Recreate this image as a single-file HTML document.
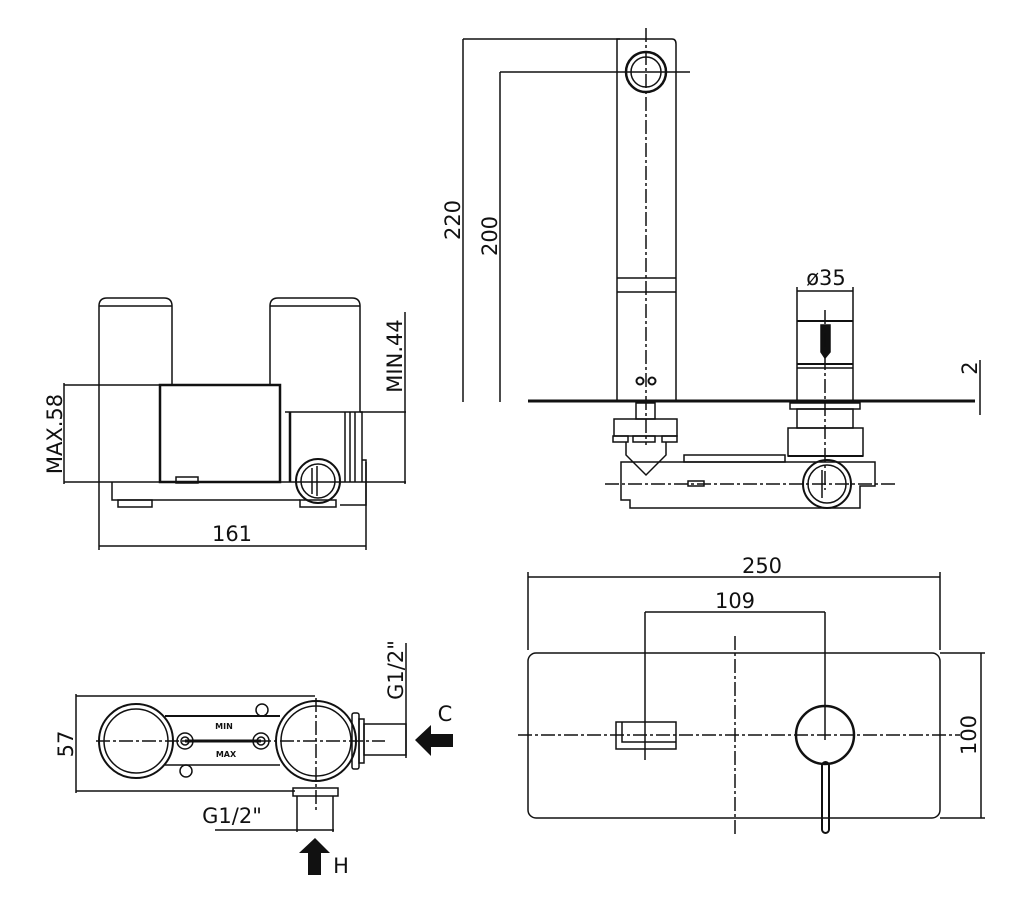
<!DOCTYPE html>
<html><head><meta charset="utf-8"><style>
html,body{margin:0;padding:0;background:#fff;}
svg{display:block;}
text{font-family:"DejaVu Sans","Liberation Sans",sans-serif;font-size:21px;fill:#111;stroke:none;}
</style></head><body>
<svg width="1024" height="907" viewBox="0 0 1024 907" xmlns="http://www.w3.org/2000/svg" fill="none" stroke="#111" stroke-width="1.5">
<!-- ===== Top-left side view ===== -->
<path d="M99 482 V306 Q99 298 107 298 H164 Q172 298 172 306 V385"/>
<line x1="99" y1="306" x2="172" y2="306"/>
<path d="M270 385 V306 Q270 298 278 298 H352 Q360 298 360 306 V412"/>
<line x1="270" y1="306" x2="360" y2="306"/>
<rect x="160" y="385" width="120" height="97" stroke-width="2.5"/>
<rect x="176" y="477" width="22" height="6"/>
<path d="M285 412 H362 V482"/>
<line x1="290" y1="412" x2="290" y2="482" stroke-width="2.5"/>
<line x1="345" y1="412" x2="345" y2="482"/>
<line x1="350" y1="412" x2="350" y2="482"/>
<line x1="355" y1="412" x2="355" y2="482"/>
<path d="M362 460 H366 V505 H340"/>
<path d="M112 482 V500 H300"/>
<line x1="64" y1="482" x2="366" y2="482"/>
<rect x="118" y="500" width="34" height="7"/>
<rect x="300" y="500" width="36" height="7"/>
<circle cx="318" cy="481" r="22" stroke-width="2"/>
<circle cx="318" cy="481" r="17"/>
<line x1="312" y1="468" x2="312" y2="494"/>
<line x1="317" y1="466" x2="317" y2="496"/>
<!-- dims -->
<line x1="64" y1="385" x2="160" y2="385"/>
<line x1="64" y1="383" x2="64" y2="484"/>
<text transform="translate(62 434) rotate(-90)" text-anchor="middle">MAX.58</text>
<line x1="360" y1="412" x2="406" y2="412"/>
<line x1="405" y1="312" x2="405" y2="484"/>
<line x1="366" y1="482" x2="406" y2="482"/>
<text transform="translate(402 356) rotate(-90)" text-anchor="middle">MIN.44</text>
<line x1="99" y1="482" x2="99" y2="550"/>
<line x1="366" y1="462" x2="366" y2="550"/>
<line x1="99" y1="546" x2="366" y2="546"/>
<text x="232" y="541" text-anchor="middle">161</text>

<!-- ===== Top-right elevation ===== -->
<line x1="463" y1="39" x2="620" y2="39"/>
<line x1="463" y1="39" x2="463" y2="402"/>
<text transform="translate(460 220) rotate(-90)" text-anchor="middle">220</text>
<line x1="500" y1="72" x2="690" y2="72"/>
<line x1="500" y1="72" x2="500" y2="402"/>
<text transform="translate(497 236) rotate(-90)" text-anchor="middle">200</text>
<path d="M617 400 V39 H672 Q676 39 676 44 V400"/>
<line x1="617" y1="278" x2="676" y2="278"/>
<line x1="617" y1="292" x2="676" y2="292"/>
<circle cx="646" cy="72" r="20" stroke-width="2.5"/>
<circle cx="646" cy="72" r="15"/>
<line x1="646" y1="28" x2="646" y2="445" stroke-dasharray="14 3 3 3"/>
<circle cx="640" cy="381" r="3.5" stroke-width="2"/>
<circle cx="652" cy="381" r="3.5" stroke-width="2"/>
<line x1="528" y1="401" x2="975" y2="401" stroke-width="3"/>
<!-- mixer -->
<line x1="797" y1="287" x2="797" y2="400"/>
<line x1="853" y1="287" x2="853" y2="400"/>
<line x1="797" y1="291" x2="853" y2="291"/>
<text x="826" y="285" text-anchor="middle">ø35</text>
<line x1="797" y1="321" x2="853" y2="321" stroke-width="2"/>
<line x1="797" y1="364" x2="853" y2="364" stroke-width="2"/>
<line x1="797" y1="368" x2="853" y2="368"/>
<path d="M821 325 H830 V352 L825 358 L821 352 Z" fill="#111"/>
<line x1="825" y1="310" x2="825" y2="490" stroke-dasharray="14 3 3 3"/>
<line x1="980" y1="360" x2="980" y2="415"/>
<text transform="translate(977 368) rotate(-90)" text-anchor="middle">2</text>
<rect x="790" y="403" width="70" height="6"/>
<rect x="797" y="409" width="56" height="19"/>
<rect x="788" y="428" width="75" height="28"/>
<line x1="788" y1="456" x2="863" y2="456" stroke-width="2"/>
<!-- left connector -->
<rect x="636" y="403" width="19" height="16"/>
<rect x="614" y="419" width="63" height="17"/>
<rect x="613" y="436" width="15" height="6"/>
<rect x="633" y="436" width="22" height="6"/>
<rect x="662" y="436" width="15" height="6"/>
<path d="M626 442 V455 L646 475 L666 455 V442"/>
<!-- pipe body -->
<path d="M621 462 H875 V486 H860 V508 H630 V500 H621 Z"/>
<rect x="684" y="455" width="101" height="7"/>
<line x1="605" y1="484" x2="895" y2="484" stroke-dasharray="14 3 3 3"/>
<rect x="688" y="481" width="16" height="5"/>
<circle cx="827" cy="484" r="24" stroke-width="2"/>
<circle cx="827" cy="484" r="19"/>
<line x1="822" y1="470" x2="822" y2="498"/>

<!-- ===== Bottom-left plan ===== -->
<line x1="76" y1="696" x2="315" y2="696"/>
<line x1="76" y1="791" x2="295" y2="791"/>
<line x1="76" y1="694" x2="76" y2="793"/>
<text transform="translate(73 744) rotate(-90)" text-anchor="middle">57</text>
<circle cx="136" cy="741" r="37" stroke-width="2"/>
<circle cx="136" cy="741" r="32"/>
<line x1="165" y1="716" x2="280" y2="716" stroke-width="2"/>
<line x1="165" y1="765" x2="280" y2="765"/>
<line x1="185" y1="741" x2="261" y2="741" stroke-width="3"/>
<circle cx="185" cy="741" r="8"/><circle cx="185" cy="741" r="4"/>
<circle cx="261" cy="741" r="8"/><circle cx="261" cy="741" r="4"/>
<circle cx="262" cy="710" r="6"/><circle cx="186" cy="771" r="6"/>
<text x="224" y="729" text-anchor="middle" style="font-size:8px;font-weight:bold">MIN</text>
<text x="226" y="757" text-anchor="middle" style="font-size:8px;font-weight:bold">MAX</text>
<circle cx="316" cy="741" r="40" stroke-width="2"/>
<circle cx="316" cy="741" r="35"/>
<rect x="352" y="713" width="7" height="56" rx="2"/>
<rect x="359" y="719" width="5" height="44"/>
<rect x="364" y="724" width="42" height="31"/>
<line x1="96" y1="741" x2="385" y2="741" stroke-dasharray="14 3 3 3"/>
<line x1="316" y1="698" x2="316" y2="812" stroke-dasharray="14 3 3 3"/>
<line x1="406" y1="643" x2="406" y2="758"/>
<text transform="translate(403 670) rotate(-90)" text-anchor="middle">G1/2"</text>
<path d="M415 740 L431 725 V734 H453 V747 H431 V756 Z" fill="#111" stroke="none"/>
<text x="445" y="721" text-anchor="middle">C</text>
<path d="M293 788 H338 V796 H293 Z"/>
<line x1="297" y1="796" x2="297" y2="832"/>
<line x1="333" y1="796" x2="333" y2="832"/>
<line x1="215" y1="830" x2="334" y2="830"/>
<text x="232" y="823" text-anchor="middle">G1/2"</text>
<path d="M315 838 L330 853 H321 V875 H308 V853 H299 Z" fill="#111" stroke="none"/>
<text x="341" y="873" text-anchor="middle">H</text>

<!-- ===== Bottom-right front ===== -->
<rect x="528" y="653" width="412" height="165" rx="8"/>
<line x1="528" y1="572" x2="528" y2="650"/>
<line x1="940" y1="572" x2="940" y2="650"/>
<line x1="528" y1="577" x2="940" y2="577"/>
<text x="762" y="573" text-anchor="middle">250</text>
<line x1="645" y1="612" x2="825" y2="612"/>
<line x1="645" y1="612" x2="645" y2="760"/>
<line x1="825" y1="612" x2="825" y2="740"/>
<text x="735" y="608" text-anchor="middle">109</text>
<line x1="735" y1="636" x2="735" y2="836" stroke-dasharray="14 3 3 3"/>
<line x1="518" y1="735" x2="960" y2="735" stroke-dasharray="14 3 3 3"/>
<rect x="616" y="722" width="60" height="27"/>
<path d="M622 722 V742 H676"/>
<circle cx="825" cy="735" r="29" stroke-width="2.5"/>
<rect x="822" y="762" width="7" height="71" rx="3.5" stroke-width="2"/>
<line x1="940" y1="653" x2="985" y2="653"/>
<line x1="940" y1="818" x2="985" y2="818"/>
<line x1="981" y1="653" x2="981" y2="818"/>
<text transform="translate(976 735) rotate(-90)" text-anchor="middle">100</text>
</svg>
</body></html>
